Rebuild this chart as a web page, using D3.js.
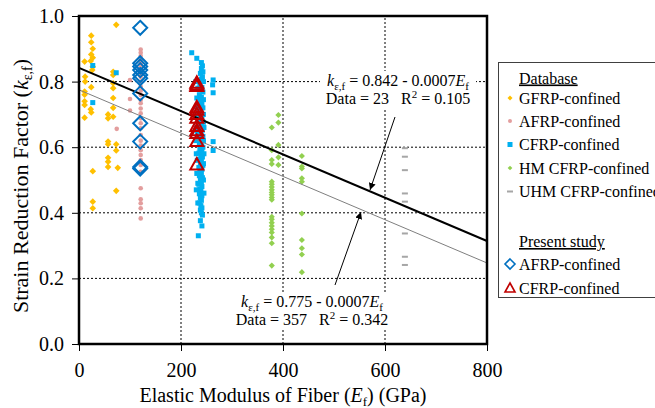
<!DOCTYPE html>
<html>
<head>
<meta charset="utf-8">
<script src="https://cdn.jsdelivr.net/npm/d3@7"></script>
<style>
body { margin: 0; background: #fff; }
text { font-family: "Liberation Serif", "Times New Roman", serif; }
</style>
</head>
<body>
<div id="containerDiv"></div>
<script>

// database points [E (GPa), k]
var gfrpData = [[73,0.973],[24,0.94],[24,0.92],[27,0.90],[24,0.883],[27,0.873],[23,0.863],[11,0.861],[27,0.845],[26,0.835],
  [12,0.815],[67,0.83],[67,0.82],[12,0.80],[67,0.795],[24,0.783],[67,0.78],[11,0.77],[11,0.76],[67,0.75],[11,0.74],
  [11,0.729],[23,0.716],[24,0.706],[67,0.72],[57,0.70],[57,0.688],[67,0.693],[11,0.69],[57,0.617],[57,0.609],[73,0.609],
  [73,0.59],[57,0.568],[57,0.556],[57,0.54],[76,0.537],[27,0.527],[73,0.467],[27,0.434],[27,0.414]];

var afrpData = [[121,0.898],[121,0.888],[121,0.878],[121,0.866],[121,0.855],[121,0.845],[121,0.835],[121,0.825],[121,0.815],
  [121,0.80],[121,0.785],[121,0.772],[121,0.759],[121,0.744],[121,0.734],[121,0.718],[121,0.703],[121,0.688],[121,0.673],
  [121,0.658],[121,0.637],[121,0.62],[121,0.605],[121,0.591],[121,0.576],[121,0.561],[121,0.546],[121,0.525],[121,0.475],
  [121,0.441],[121,0.429],[121,0.414],[121,0.383],[100,0.805],[100,0.747],[100,0.712],[74,0.656]];

var cfrpData = [[27,0.849],[73,0.827],[27,0.736],
  [221,0.888],[231,0.871],[240,0.858],[242,0.848],[240,0.84],[243,0.83],[238,0.825],[242,0.815],[240,0.808],[263,0.805],
  [262,0.79],[244,0.80],[237,0.79],[241,0.782],[263,0.766],[239,0.775],[243,0.768],[236,0.76],[240,0.752],[244,0.745],
  [238,0.74],[241,0.733],[235,0.728],[243,0.72],[239,0.715],[236,0.708],[242,0.70],[238,0.695],[241,0.688],[234,0.683],
  [244,0.676],[237,0.67],[240,0.665],[236,0.658],[242,0.652],[239,0.645],[235,0.64],[243,0.633],[238,0.628],[241,0.62],
  [263,0.617],[236,0.612],[240,0.605],[243,0.60],[237,0.595],[263,0.59],[241,0.588],[235,0.582],[239,0.575],[242,0.57],
  [236,0.563],[240,0.558],[238,0.55],[243,0.545],[235,0.538],[241,0.532],[237,0.525],[240,0.52],[236,0.513],[242,0.507],
  [238,0.50],[240,0.493],[235,0.487],[241,0.48],[237,0.472],[239,0.465],[236,0.458],[241,0.452],[238,0.445],[240,0.438],
  [236,0.43],[239,0.422],[241,0.415],[238,0.408],[240,0.40],[242,0.393],[238,0.376],[241,0.36],[234,0.33],
  [229,0.70],[229,0.62],[231,0.66],[230,0.58],[231,0.52],[230,0.47],[232,0.56],[231,0.75],[229,0.80],[233,0.49],[233,0.43],
  [244,0.55],[244,0.62],[244,0.70],[244,0.50],[232,0.64],[232,0.72],[233,0.78],[245,0.58],[245,0.66],[245,0.46]];

var hmData = [[391,0.698],[391,0.675],[378,0.66],[391,0.607],[378,0.591],[378,0.561],[378,0.549],[391,0.569],[391,0.546],
  [378,0.495],[378,0.487],[378,0.479],[378,0.47],[378,0.462],[378,0.455],[378,0.447],[378,0.44],[378,0.388],[378,0.38],
  [378,0.37],[378,0.36],[378,0.35],[378,0.34],[378,0.325],[378,0.307],[378,0.239],[437,0.573],[437,0.541],[437,0.535],
  [437,0.505],[437,0.495],[437,0.398],[437,0.317],[437,0.292],[437,0.273],[437,0.219]];

var uhmData = [[639,0.597],[639,0.571],[639,0.53],[639,0.459],[639,0.434],[639,0.337],[639,0.266],[639,0.241]];

// present study
var studyAfrp = [[120,0.964],[120,0.856],[120,0.846],[120,0.835],[120,0.82],[120,0.81],[120,0.764],[120,0.673],[120,0.617],[120,0.54],[120,0.535]];
var studyCfrp = [[231,0.795],[231,0.785],[231,0.79],[231,0.72],[231,0.713],[231,0.70],[231,0.688],[231,0.663],[231,0.65],[231,0.642],[231,0.617],[231,0.546]];

// fitted lines: k = a - b*E
var fitIntercept = [0.842, 0.775];
var fitSlope = [0.00066, 0.00066];
var fitColor = ["#000", "#7f7f7f"];
var fitWidth = [2, 1];

var xTicks = [0, 200, 400, 600, 800];
var yTicks = [0, 0.2, 0.4, 0.6, 0.8, 1.0];

var w = 655;
var h = 408;

var svg = d3.select("#containerDiv")
            .append("svg")
            .attr("width", w)
            .attr("height", h);

var x = d3.scaleLinear().domain([0, 800]).range([79, 487]);
var y = d3.scaleLinear().domain([0, 1]).range([344, 16]);

svg.append("defs").append("marker")
   .attr("id", "arrow")
   .attr("viewBox", "0 0 10 10")
   .attr("refX", 10).attr("refY", 5)
   .attr("markerWidth", 7).attr("markerHeight", 7)
   .attr("markerUnits", "userSpaceOnUse")
   .attr("orient", "auto")
   .append("path").attr("d", "M0,0 L10,5 L0,10 z").attr("fill", "#000");

// grid
svg.selectAll(".gx")
   .data(xTicks.slice(1, 4))
   .enter().append("line")
   .attr("x1", function(d) {return x(d);}).attr("x2", function(d) {return x(d);})
   .attr("y1", y(0)).attr("y2", y(1))
   .attr("stroke", "#000").attr("stroke-width", 1).attr("stroke-dasharray", "2,2");

svg.selectAll(".gy")
   .data(yTicks.slice(1, 5))
   .enter().append("line")
   .attr("x1", x(0)).attr("x2", x(800))
   .attr("y1", function(d) {return y(d);}).attr("y2", function(d) {return y(d);})
   .attr("stroke", "#000").attr("stroke-width", 1).attr("stroke-dasharray", "2,2");

// axes
var xAxis = svg.append("g")
   .attr("transform", "translate(0," + y(0) + ")")
   .call(d3.axisBottom(x).tickValues(xTicks).tickSize(7).tickPadding(12));
var yAxis = svg.append("g")
   .attr("transform", "translate(" + x(0) + ",0)")
   .call(d3.axisLeft(y).tickValues(yTicks).tickFormat(d3.format(".1f")).tickSize(7).tickPadding(8));
[xAxis, yAxis].forEach(function(a) {
  a.select(".domain").remove();
  a.selectAll("text").attr("font-size", "20px").attr("fill", "#000")
   .attr("font-family", "Liberation Serif, serif");
  a.selectAll("line").attr("stroke", "#000");
});

var diamond = d3.symbol().type(d3.symbolDiamond2);

// database series
svg.append("g").selectAll("path")
   .data(gfrpData).enter().append("path")
   .attr("d", diamond.size(28)())
   .attr("transform", function(d) {return "translate(" + x(d[0]) + "," + y(d[1]) + ")";})
   .attr("fill", "#FFC000");

svg.append("g").selectAll("circle")
   .data(afrpData).enter().append("circle")
   .attr("cx", function(d) {return x(d[0]);})
   .attr("cy", function(d) {return y(d[1]);})
   .attr("r", 2.3)
   .attr("fill", "#E39E9E");

svg.append("g").selectAll("rect")
   .data(cfrpData).enter().append("rect")
   .attr("x", function(d) {return x(d[0]) - 2.5;})
   .attr("y", function(d) {return y(d[1]) - 2.5;})
   .attr("width", 5).attr("height", 5)
   .attr("fill", "#00B0F0");

svg.append("g").selectAll("path")
   .data(hmData).enter().append("path")
   .attr("d", diamond.size(24)())
   .attr("transform", function(d) {return "translate(" + x(d[0]) + "," + y(d[1]) + ")";})
   .attr("fill", "#92D050");

svg.append("g").selectAll("rect")
   .data(uhmData).enter().append("rect")
   .attr("x", function(d) {return x(d[0]) - 3;})
   .attr("y", function(d) {return y(d[1]) - 1;})
   .attr("width", 6).attr("height", 2)
   .attr("fill", "#A6A6A6");

// fitted lines
svg.append("g").selectAll("line")
   .data(fitIntercept).enter().append("line")
   .attr("x1", x(0)).attr("x2", x(800))
   .attr("y1", function(d) {return y(d);})
   .attr("y2", function(d, i) {return y(d - fitSlope[i] * 800);})
   .attr("stroke", function(d, i) {return fitColor[i];})
   .attr("stroke-width", function(d, i) {return fitWidth[i];});

// present study
var triPath = "M0,-7L6.5,4.5L-6.5,4.5Z";
var diaPath = "M0,-7L7,0L0,7L-7,0Z";

svg.append("g").selectAll("path")
   .data(studyAfrp).enter().append("path")
   .attr("d", diaPath)
   .attr("transform", function(d) {return "translate(" + x(d[0]) + "," + y(d[1]) + ")";})
   .attr("fill", "none").attr("stroke", "#0070C0").attr("stroke-width", 2);

svg.append("g").selectAll("path")
   .data(studyCfrp).enter().append("path")
   .attr("d", triPath)
   .attr("transform", function(d) {return "translate(" + x(d[0]) + "," + y(d[1]) + ")";})
   .attr("fill", "none").attr("stroke", "#C00000").attr("stroke-width", 2);

// frame
svg.append("rect")
   .attr("x", x(0)).attr("y", y(1))
   .attr("width", x(800) - x(0)).attr("height", y(0) - y(1))
   .attr("fill", "none").attr("stroke", "#000").attr("stroke-width", 2.5);

// equation labels
function equation(cx, by, a, n, r2) {
  var g = svg.append("g");
  g.append("rect").attr("x", cx - 78).attr("y", by - 15).attr("width", 156).attr("height", 38).attr("fill", "#fff");
  var t = g.append("text").attr("x", cx).attr("y", by).attr("text-anchor", "middle")
           .attr("font-size", "16px").style("white-space", "pre");
  t.append("tspan").attr("font-style", "italic").text("k");
  t.append("tspan").attr("font-size", "11px").attr("dy", 4).text("ε,f");
  t.append("tspan").attr("dy", -4).text(" = " + a + " - 0.0007");
  t.append("tspan").attr("font-style", "italic").text("E");
  t.append("tspan").attr("font-size", "11px").attr("dy", 4).text("f");
  var t2 = g.append("text").attr("x", cx).attr("y", by + 18).attr("text-anchor", "middle")
            .attr("font-size", "16px").style("white-space", "pre");
  t2.append("tspan").text("Data = " + n + "   R");
  t2.append("tspan").attr("font-size", "11px").attr("dy", -6).text("2");
  t2.append("tspan").attr("dy", 6).text(" = " + r2);
}
equation(398, 86, "0.842", 23, "0.105");
equation(312, 307, "0.775", 357, "0.342");

svg.append("line").attr("x1", 395).attr("y1", 117).attr("x2", 370).attr("y2", 190)
   .attr("stroke", "#000").attr("stroke-width", 1).attr("marker-end", "url(#arrow)");
svg.append("line").attr("x1", 335).attr("y1", 285).attr("x2", 361).attr("y2", 212)
   .attr("stroke", "#000").attr("stroke-width", 1).attr("marker-end", "url(#arrow)");

// axis titles
var xt = svg.append("text").attr("x", 283).attr("y", 402).attr("text-anchor", "middle").attr("font-size", "20px");
xt.append("tspan").text("Elastic Modulus of Fiber (");
xt.append("tspan").attr("font-style", "italic").text("E");
xt.append("tspan").attr("font-size", "13px").attr("dy", 4).text("f");
xt.append("tspan").attr("dy", -4).text(") (GPa)");

var yt = svg.append("text").attr("transform", "translate(28,186) rotate(-90)")
   .attr("text-anchor", "middle").attr("font-size", "22px");
yt.append("tspan").text("Strain Reduction Factor (");
yt.append("tspan").attr("font-style", "italic").text("k");
yt.append("tspan").attr("font-size", "14px").attr("dy", 4).text("ε,f");
yt.append("tspan").attr("dy", -4).text(")");

// legend
var legend = svg.append("g");
legend.append("rect").attr("x", 498.5).attr("y", 62.5).attr("width", 200).attr("height", 235)
   .attr("fill", "#fff").attr("stroke", "#404040").attr("stroke-width", 1);

var legendItems = [
  {label: "Database", head: true, y: 78},
  {label: "GFRP-confined", kind: "gfrp", y: 98},
  {label: "AFRP-confined", kind: "afrp", y: 121},
  {label: "CFRP-confined", kind: "cfrp", y: 144.5},
  {label: "HM CFRP-confined", kind: "hm", y: 168},
  {label: "UHM CFRP-confined", kind: "uhm", y: 191.5},
  {label: "Present study", head: true, y: 241.5},
  {label: "AFRP-confined", kind: "sa", y: 264},
  {label: "CFRP-confined", kind: "sc", y: 288}
];

legendItems.forEach(function(d) {
  var t = legend.append("text").attr("x", 519).attr("y", d.y + 5.5).attr("font-size", "16px").text(d.label);
  if (d.head) t.attr("text-decoration", "underline");
  var g = legend.append("g").attr("transform", "translate(510," + d.y + ")");
  if (d.kind == "gfrp") g.append("path").attr("d", diamond.size(16)()).attr("fill", "#FFC000");
  if (d.kind == "afrp") g.append("circle").attr("r", 2).attr("fill", "#E39E9E");
  if (d.kind == "cfrp") g.append("rect").attr("x", -2.5).attr("y", -2.5).attr("width", 5).attr("height", 5).attr("fill", "#00B0F0");
  if (d.kind == "hm") g.append("path").attr("d", diamond.size(14)()).attr("fill", "#92D050");
  if (d.kind == "uhm") g.append("rect").attr("x", -3).attr("y", -1).attr("width", 6).attr("height", 2).attr("fill", "#A6A6A6");
  if (d.kind == "sa") g.append("path").attr("d", "M0,-5L5,0L0,5L-5,0Z").attr("fill", "none").attr("stroke", "#0070C0").attr("stroke-width", 1.6);
  if (d.kind == "sc") g.append("path").attr("d", "M0,-5L5,4L-5,4Z").attr("fill", "none").attr("stroke", "#C00000").attr("stroke-width", 1.6);
});

</script>
</body>
</html>
